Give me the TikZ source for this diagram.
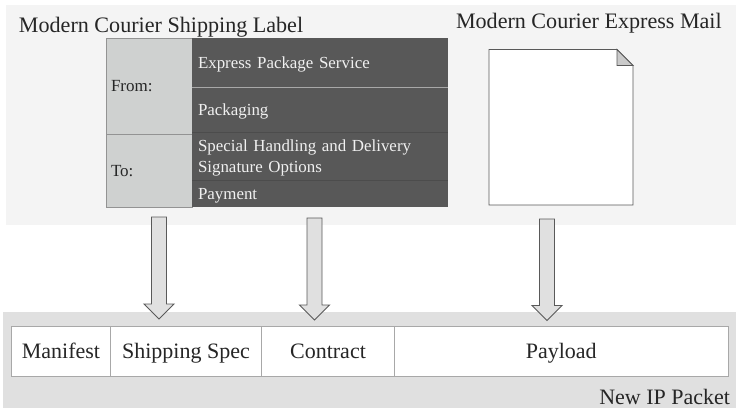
\documentclass[tikz,border=0pt]{standalone}
\usepackage{fontspec}
\setmainfont{Liberation Serif}
\usepackage{tikz}
\usetikzlibrary{calc,positioning}
\definecolor{panelgray}{HTML}{F4F4F4}
\definecolor{packetgray}{HTML}{E0E0E0}
\definecolor{addrgray}{HTML}{CFD1D0}
\definecolor{rowdark}{HTML}{585858}
\definecolor{edgegray}{HTML}{A8A8A8}
\tikzset{
courier/.style={x=1pt,y=-1pt,node distance=0pt,inner sep=0pt,outer sep=0pt},
panel/.style={anchor=north west,draw=none},
title/.style={anchor=base west,font=\fontsize{22.1}{26}\selectfont,text=black!85},
addr/.style={draw=gray!85,fill=addrgray,minimum width=86pt,text width=76pt,inner sep=5pt,text height=14pt,text depth=2.5pt,align=left,font=\fontsize{17}{20.5}\selectfont,text=black!85},
row/.style={fill=rowdark,minimum width=255pt,minimum height=#1,text width=244pt,inner xsep=6pt,text height=14pt,text depth=2.5pt,align=left,font=\fontsize{16.9}{20.5}\selectfont,text=white!94!black},
row/.default={48pt},
field/.style={draw=edgegray,fill=white,minimum height=50pt,minimum width=#1,text height=18pt,text depth=4pt,font=\fontsize{22}{26}\selectfont,text=black!85},
page/.style={draw=black!65,line width=0.9pt,fill=white},
pagefold/.style={draw=black!65,line width=0.9pt,fill=packetgray!90!black},
blockarrow/.style={draw=black!65,line width=0.9pt,fill=packetgray,
  to path={let \p1=(\tikztostart),\p2=(\tikztotarget) in
    -- ++(7.5pt,0pt) -- (\x1+7.5pt,\y2+15pt) -- (\x1+15pt,\y2+15pt) -- (\p2)
    -- (\x1-15pt,\y2+15pt) -- (\x1-7.5pt,\y2+15pt) -- (\x1-7.5pt,\y1) -- cycle}},
}
\begin{document}
\begin{tikzpicture}[courier]
  \useasboundingbox (0,0) rectangle (736,408);
  % backgrounds
  \node[panel,fill=panelgray,minimum width=730pt,minimum height=220pt] (courierpanel) at (6,5) {};
  \node[panel,fill=packetgray,minimum width=733pt,minimum height=96pt] (packetpanel) at (3,312) {};
  \node[title] (labeltitle) at (19,32) {Modern Courier Shipping Label};
  \node[title] (mailtitle) at (456,28) {Modern Courier Express Mail};

  % shipping label
  \node[addr,anchor=north west,minimum height=96pt] (from) at (106,38) {From:};
  \node[addr,minimum height=73pt,below=of from] (to) {To:};
  \node[row=49pt,anchor=north west] (service) at (192,38) {Express Package Service};
  \node[row=45pt,below=of service] (packaging) {Packaging};
  \node[row=48pt,text depth=22.6pt,below=of packaging] (handling) {Special Handling and Delivery\\Signature Options};
  \node[row=27pt,below=of handling] (payment) {Payment};
  \draw[edgegray] (service.south west) -- (service.south east);
  \draw[black!70] (packaging.south west) -- (packaging.south east);
  \draw[black!70] (handling.south west) -- (handling.south east);

  % express mail
  \draw[page] (489,49.5) -- (617,49.5) -- (633,65.5) -- (633,205) -- (489,205) -- cycle;
  \draw[pagefold] (617,49.5) -- (633,65.5) -- (617,65.5) -- cycle;

  % new packet
  \node[field=99pt,anchor=north west] (manifest) at (11.5,326) {Manifest};
  \node[field=151pt,right=of manifest] (spec) {Shipping Spec};
  \node[field=133pt,right=of spec] (contract) {Contract};
  \node[field=333.5pt,right=of contract] (payload) {Payload};
  \node[anchor=base east,font=\fontsize{22}{26}\selectfont,text=black!85] (packetname) at (730,404) {New IP Packet};

  \coordinate (specstart) at (159,217);
  \coordinate (specend) at (159,319);
  \coordinate (contractstart) at (314.5,218);
  \coordinate (contractend) at (314.5,320);
  \coordinate (payloadstart) at (547,219);
  \coordinate (payloadend) at (547,320.5);
  \draw[blockarrow] (specstart) to (specend);
  \draw[blockarrow] (contractstart) to (contractend);
  \draw[blockarrow] (payloadstart) to (payloadend);
\end{tikzpicture}
\end{document}
